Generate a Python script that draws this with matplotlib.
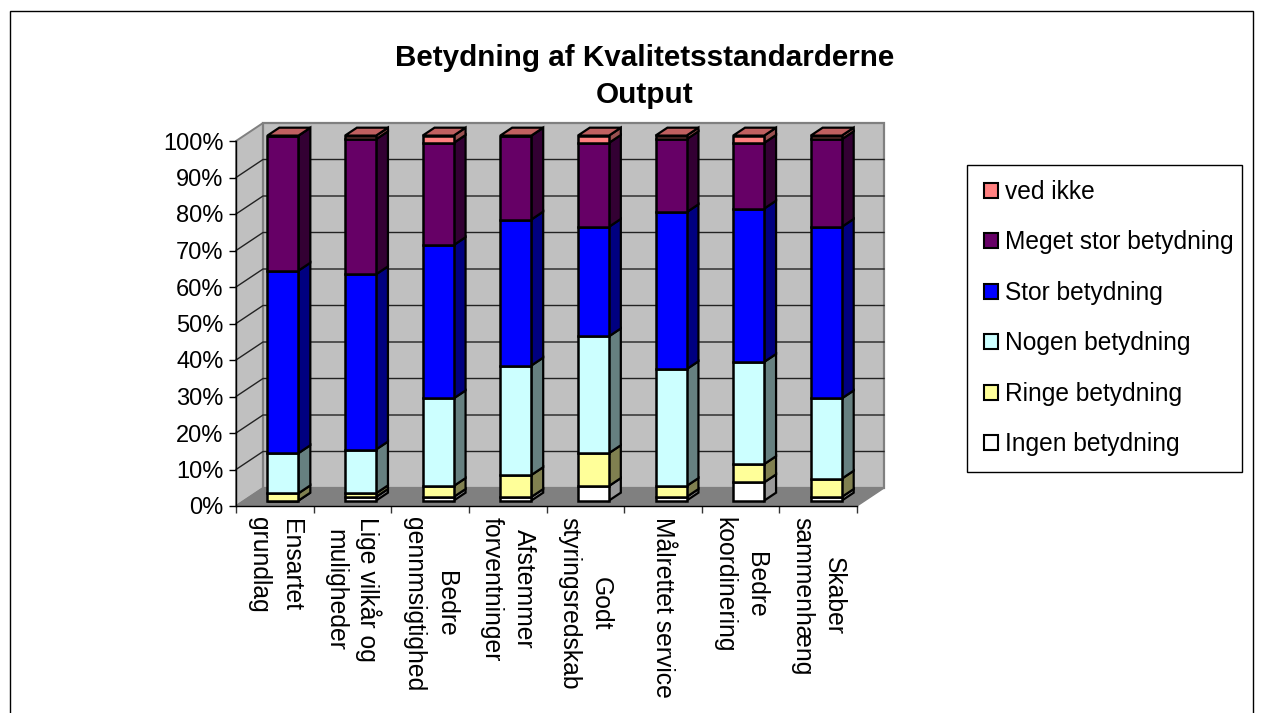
import matplotlib
matplotlib.use('Agg')
import matplotlib.pyplot as plt
import numpy as np
from matplotlib.patches import Patch, Polygon, Rectangle

plt.rcParams['font.family'] = ['Liberation Sans', 'DejaVu Sans']

W, H = 1262, 713

categories = ['Ensartet\ngrundlag', 'Lige vilkår og\nmuligheder', 'Bedre\ngennmsigtighed',
              'Afstemmer\nforventninger', 'Godt\nstyringsredskab', 'Målrettet service',
              'Bedre\nkoordinering', 'Skaber\nsammenhæng']

# stacked shares in percent, bottom to top
ingen = [0, 1, 1, 1, 4, 1, 5, 1]
ringe = [2, 1, 3, 6, 9, 3, 5, 5]
nogen = [11, 12, 24, 30, 32, 32, 28, 22]
stor = [50, 48, 42, 40, 30, 43, 42, 47]
meget = [37, 37, 28, 23, 23, 20, 18, 24]
ved_ikke = [0, 1, 2, 0, 2, 1, 2, 1]

series = [ingen, ringe, nogen, stor, meget, ved_ikke]
names = ['Ingen betydning', 'Ringe betydning', 'Nogen betydning',
         'Stor betydning', 'Meget stor betydning', 'ved ikke']
colors = ['#FFFFFF', '#FFFF99', '#CCFFFF', '#0000FF', '#660066', '#FF8080']
side_colors = ['#999999', '#808050', '#668080', '#000080', '#330033', '#995050']
top_color = '#C06060'

# full depth of the 3d box, in data units
DEPTH_X = 27 / 77.6
DEPTH_Y = 18 / 3.65
# where the bars sit inside that depth
BAR_NEAR = 0.30
BAR_FAR = 0.74
BAR_WIDTH = 0.40


def project(x, y, depth):
    return x + depth * DEPTH_X, y + depth * DEPTH_Y


def draw_walls(ax, n):
    side = [project(0, 0, 0), project(0, 0, 1), project(0, 100, 1), project(0, 100, 0)]
    back = [project(0, 0, 1), project(n, 0, 1), project(n, 100, 1), project(0, 100, 1)]
    floor = [project(0, 0, 0), project(n, 0, 0), project(n, 0, 1), project(0, 0, 1)]
    ax.add_patch(Polygon(side, fc='#C0C0C0', ec='#808080', lw=1.4, clip_on=False, zorder=1))
    ax.add_patch(Polygon(back, fc='#C0C0C0', ec='#808080', lw=1.6, clip_on=False, zorder=1))
    ax.add_patch(Polygon(floor, fc='#808080', ec='#808080', lw=1, clip_on=False, zorder=1))
    for v in range(10, 100, 10):
        xs, ys = zip(project(0, v, 0), project(0, v, 1), project(n, v, 1))
        ax.plot(xs, ys, color='#222222', lw=1.0, clip_on=False, zorder=2)


def draw_bars(ax, n):
    near = BAR_NEAR
    far = BAR_FAR
    bottom = np.zeros(n)
    for values, color, side_color in zip(series, colors, side_colors):
        values = np.array(values, dtype=float)
        for i in range(n):
            x0 = i + 0.5 - BAR_WIDTH / 2 + near * DEPTH_X
            x1 = x0 + BAR_WIDTH
            y0 = bottom[i] + near * DEPTH_Y
            y1 = y0 + values[i]
            d = (far - near)
            quad = [(x1, y0), (x1 + d * DEPTH_X, y0 + d * DEPTH_Y),
                    (x1 + d * DEPTH_X, y1 + d * DEPTH_Y), (x1, y1)]
            ax.add_patch(Polygon(quad, fc=side_color, ec='black', lw=1.6, clip_on=False, zorder=3))
        ax.bar(np.arange(n) + 0.5 + near * DEPTH_X, values, BAR_WIDTH,
               bottom=bottom + near * DEPTH_Y, color=color, edgecolor='black', lw=1.8,
               clip_on=False, zorder=4)
        bottom += values
    d = far - near
    for i in range(n):
        x0 = i + 0.5 - BAR_WIDTH / 2 + near * DEPTH_X
        x1 = x0 + BAR_WIDTH
        y = bottom[i] + near * DEPTH_Y
        quad = [(x0, y), (x1, y), (x1 + d * DEPTH_X, y + d * DEPTH_Y), (x0 + d * DEPTH_X, y + d * DEPTH_Y)]
        ax.add_patch(Polygon(quad, fc=top_color, ec='black', lw=1.6, clip_on=False, zorder=3))


def main():
    n = len(categories)
    fig = plt.figure(figsize=(W / 100, H / 100), dpi=100)
    fig.add_artist(Rectangle((10 / W, -0.01), 1243 / W, 1.01 - 11 / H, transform=fig.transFigure,
                             fc='white', ec='black', lw=1.0, zorder=-1))
    ax = fig.add_axes([236 / W, 1 - 506 / H, 621 / W, 365 / H])
    ax.patch.set_visible(False)
    ax.set_xlim(0, n)
    ax.set_ylim(0, 100)

    draw_walls(ax, n)
    draw_bars(ax, n)

    for s in ['top', 'right']:
        ax.spines[s].set_visible(False)
    for s in ['left', 'bottom']:
        ax.spines[s].set_linewidth(1.0)
        ax.spines[s].set_zorder(5)

    ax.set_yticks(range(0, 101, 10))
    ax.set_yticklabels([f'{v}%' for v in range(0, 101, 10)], fontsize=17)
    ax.tick_params(axis='y', length=5, width=1.0, pad=4)
    ax.set_xticks(range(n + 1))
    ax.set_xticklabels([])
    ax.tick_params(axis='x', which='major', length=5, width=1.0, color='#333333')
    ax.set_xticks(np.arange(n) + 0.5, categories, minor=True, rotation=-90, fontsize=17.8,
                  ha='center', va='top', multialignment='center', linespacing=1.4)
    ax.tick_params(axis='x', which='minor', length=0, pad=8)

    fig.text(645 / W, 1 - 76.5 / H, 'Betydning af Kvalitetsstandarderne\nOutput', fontsize=21.3,
             fontweight='bold', ha='center', va='center', multialignment='center', linespacing=1.42)

    fig.add_artist(Rectangle((967 / W, 1 - 472 / H), 275 / W, 307 / H, transform=fig.transFigure,
                             fc='white', ec='black', lw=1.0))
    handles = [Patch(fc=c, ec='black', lw=1.5, label=name)
               for c, name in zip(colors[::-1], names[::-1])]
    fig.legend(handles=handles, loc='upper left', bbox_to_anchor=(984 / W, 1 - 180 / H),
               fontsize=17.65, frameon=False, handlelength=0.57, handleheight=0.57,
               handletextpad=0.3, labelspacing=1.08, borderpad=0, borderaxespad=0)

    fig.savefig('out.png', dpi=100)


if __name__ == '__main__':
    main()
